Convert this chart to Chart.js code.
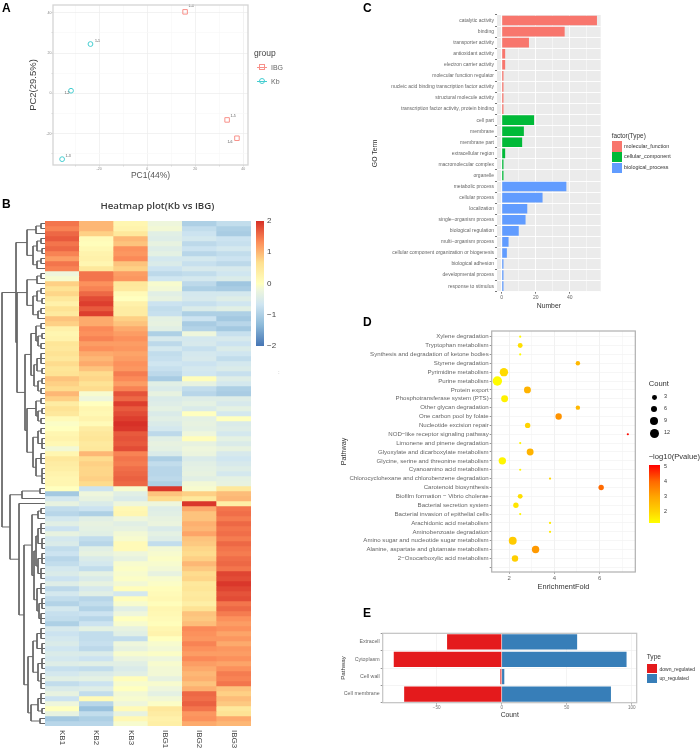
<!DOCTYPE html>
<html>
<head>
<meta charset="utf-8">
<script src="https://cdn.jsdelivr.net/npm/chart.js@4/dist/chart.umd.min.js"></script>
<style>
html, body { margin: 0; padding: 0; background: #fff; }
body { width: 700px; height: 750px; position: relative; overflow: hidden; font-family: "Liberation Sans", Arial, sans-serif; }
#page { position: absolute; left: 0; top: 0; width: 700px; height: 750px; filter: blur(0.45px); }
canvas { position: absolute; }
.txt { position: absolute; white-space: nowrap; line-height: 1; transform: translateY(-50%); }
.box { position: absolute; }
</style>
</head>
<body>
<div id="page">
<canvas id="pca" style="left:25px;top:0" width="228" height="183"></canvas>
<canvas id="dendro" style="left:0;top:221px" width="45" height="505"></canvas>
<canvas id="heat" style="left:45px;top:221px" width="206" height="529"></canvas>
<canvas id="go" style="left:368px;top:0" width="234" height="312"></canvas>
<canvas id="kegg" style="left:337px;top:326px" width="303" height="268"></canvas>
<canvas id="loc" style="left:337px;top:628px" width="302" height="93"></canvas>
</div>
<script>
// ---------- A: PCA ----------
const pcaIbgX = [15.8, 33.3, 37.4];
const pcaIbgY = [40.5, -13.2, -22.3];
const pcaKbX = [-23.6, -31.7, -35.4];
const pcaKbY = [24.5, 1.3, -32.7];
const pcaIbgNames = ['1-4', '1-5', '1-6'];
const pcaKbNames = ['1-1', '1-2', '1-3'];
const pcaXTicks = [-30, -20, -10, 0, 10, 20, 30, 40];
const pcaYTicks = [-30, -20, -10, 0, 10, 20, 30, 40];

// ---------- B: heatmap, one array per sample, one value per row ----------
const heatSamples = ['KB1', 'KB2', 'KB3', 'IBG1', 'IBG2', 'IBG3'];
const heatKB1 = [
    1.5, 1.4, 1.6, 1.7, 1.5, 1.6, 1.4, 1.2, 1.5, 1.4,
    -0.2, -0.1, 0.8, 0.6, 0.75, 0.5, 0.3, 0.6, 0.45, 0.9,
    0.8, 0.3, 0.2, 0.25, 0.55, 0.5, 0.6, 0.5, 0.7, 0.55,
    0.6, 0.9, 0.8, 0.7, 1.0, 0.8, 0.4, 0.6, 0.5, 0.1,
    -0.05, 0, 0.2, 0.25, 0.15, -0.15, 0.2, 0.5, 0.4, 0.35,
    0.25, 0.2, 0.2, 0, -1.1, -0.6, -0.3, -0.8, -0.9, -0.6,
    -0.4, -0.7, -0.3, -0.6, -0.5, -0.8, -0.7, -0.9, -0.8, -0.6,
    -0.5, -0.7, -0.45, -0.85, -0.6, -0.8, -0.95, -0.6, -0.75, -0.8,
    -1.0, -0.55, -0.7, -0.6, -0.5, -0.65, -0.5, -0.6, -0.45, -0.75,
    -0.6, -0.4, -0.8, -0.5, -0.3, -0.7, -0.2, 0, -0.3, -1.1, -0.9
];
const heatKB2 = [
    1.0, 1.0, 0.8, 0.1, 0.05, 0.15, 0.25, 0.3, 0.2, 0.5,
    1.5, 1.5, 1.3, 1.4, 1.6, 1.8, 1.9, 1.7, 1.9, 1.1,
    1.1, 1.35, 1.3, 1.4, 1.2, 1.3, 1.1, 1.0, 1.1, 0.9,
    0.7, 0.75, 0.6, 0.7, -0.1, -0.2, 0, 0.2, 0.15, 0.25,
    0.1, 0.4, 0.5, 0.55, 0.45, 0.5, 1.0, 0.7, 0.8, 0.75,
    0.75, 0.8, 0.7, -0.7, -0.2, -0.3, -0.5, -0.7, -1.0, -0.4,
    -0.3, -0.35, -0.4, -0.8, -0.9, -0.4, -0.3, -0.5, -0.6, -0.8,
    -0.35, -0.5, -0.3, -0.55, -0.4, -0.9, -0.8, -0.95, -0.7, -0.9,
    -0.7, -0.35, -0.8, -0.8, -0.75, -0.85, -0.5, -0.7, -0.4, -0.8,
    -0.5, -0.35, -0.7, -0.45, -0.8, 0.1, -0.9, -1.2, -0.8, -1.0, -0.9
];
const heatKB3 = [
    0.2, 0.25, 0.5, 1.0, 0.9, 1.3, 1.25, 1.35, 0.9, 0.8,
    1.2, 1.25, 0.5, 0.45, 0.1, 0, 0.3, 0.4, 0.4, 0.8,
    0.9, 1.1, 1.2, 1.3, 1.2, 1.25, 1.15, 1.2, 1.3, 1.25,
    1.45, 1.35, 1.2, 1.4, 1.75, 1.6, 1.9, 1.7, 1.8, 1.9,
    2.0, 1.95, 1.7, 1.75, 1.7, 1.8, 1.4, 1.5, 1.45, 1.55,
    1.6, 1.65, 1.6, -0.1, -0.4, -0.5, -0.2, 0.15, 0.2, -0.2,
    -0.4, -0.3, -0.15, -0.1, 0.1, 0.1, -0.2, -0.3, -0.1, -0.05,
    -0.1, -0.05, -0.15, 0.05, -0.6, 0.05, -0.1, -0.4, -0.2, 0,
    -0.1, -0.3, -0.4, -0.8, -0.2, -0.3, -0.1, -0.25, -0.4, -0.5,
    -0.4, 0.05, -0.1, 0, -0.15, -0.1, -0.2, 0.1, -0.3, 0.15, -0.1
];
const heatIBG1 = [
    -0.2, -0.15, -0.4, -0.45, -0.3, -0.45, -0.35, -0.6, -0.5, -0.7,
    -0.85, -0.65, -0.1, -0.15, -0.4, -0.3, -0.7, -0.8, -0.75, -0.35,
    -0.3, -0.4, -1.0, -0.55, -0.85, -0.6, -0.8, -0.75, -0.65, -0.75,
    -0.85, -1.05, -0.4, -0.5, -0.3, -0.5, -0.45, -0.35, -0.5, -0.4,
    -0.5, -0.6, -0.85, -0.4, -0.3, -0.35, -0.5, -1.0, -0.8, -0.9,
    -0.9, -0.85, -1.0, 1.95, 0.9, 0.7, -0.2, -0.45, -0.4, -0.3,
    -0.25, -0.5, -0.35, -0.45, -0.8, -0.15, -0.1, -0.05, -0.1, -0.15,
    -0.3, -0.1, -0.05, 0.05, 0.1, 0.15, 0.05, 0.2, 0.15, 0.1,
    0.05, 0.2, 0.25, 0, -0.1, -0.15, -0.05, -0.2, -0.1, -0.15,
    -0.15, -0.3, -0.1, -0.2, -0.35, -0.15, -0.05, 0.5, 0.4, 0.3, 0.35
];
const heatIBG2 = [
    -1.0, -0.8, -0.7, -0.6, -0.85, -0.7, -0.9, -0.6, -0.75, -0.55,
    -0.8, -0.6, -0.85, -1.0, -0.6, -0.55, -0.75, -0.5, -1.0, -0.7,
    -1.05, -0.95, -0.2, -0.6, -0.55, -0.75, -0.6, -0.55, -0.7, -0.6,
    -0.65, 0.05, -0.3, -0.8, -0.9, -0.45, -0.35, -0.5, 0, -0.35,
    -0.3, -0.35, -0.2, 0.05, -0.3, -0.2, -0.25, -0.5, -0.4, -0.35,
    -0.3, -0.4, -0.15, -0.1, 0.8, 0.5, 1.95, 1.1, 0.9, 0.9,
    1.05, 1.0, 1.15, 0.9, 0.85, 0.75, 0.7, 0.8, 1.0, 0.85,
    0.7, 0.75, 0.5, 0.55, 0.45, 0.5, 0.35, 0.6, 0.9, 0.85,
    0.95, 1.35, 1.3, 1.25, 1.4, 1.3, 1.2, 1.35, 1.2, 1.1,
    1.0, 1.05, 0.9, 1.05, 1.6, 1.55, 1.65, 1.5, 1.25, 1.3, 1.1
];
const heatIBG3 = [
    -0.8, -1.0, -1.05, -0.7, -0.75, -0.6, -0.8, -0.7, -0.85, -0.55,
    -0.65, -0.5, -1.15, -1.05, -0.6, -0.45, -0.65, -0.4, -1.0, -1.1,
    -0.9, -1.1, -0.75, -0.55, -0.7, -0.5, -0.65, -0.8, -0.6, -0.5,
    -0.75, -0.45, -0.6, -1.0, -1.05, -0.45, -0.55, -0.35, -0.6, 0,
    -0.5, -0.45, -0.6, -0.35, -0.5, -0.3, -0.55, -0.65, -0.55, -0.45,
    -0.6, -0.35, -0.3, 0.5, 0.95, 1.0, 0.35, 1.5, 1.55, 1.45,
    1.6, 1.5, 1.55, 1.45, 1.6, 1.5, 1.45, 1.55, 1.6, 1.5,
    1.85, 1.8, 1.95, 1.85, 1.75, 1.8, 1.5, 1.6, 1.45, 1.3,
    1.2, 1.3, 1.15, 1.25, 1.1, 1.25, 1.2, 1.3, 1.15, 1.3,
    1.45, 1.4, 1.5, 0.9, 0.8, 0.95, 0.85, 0.5, 0.6, 1.1, 1.0
];
const heatTicks = [2, 1, 0, -1, -2];
const heatStops = [[-2, '#4575B4'], [-1.33, '#8DBAD9'], [-0.67, '#CFE5F1'], [-0.2, '#EEF6DC'], [0, '#FFFFBF'], [0.67, '#FEE090'], [1.33, '#FC8D59'], [2, '#D73027']];

// dendrogram: node(height, ...children), rows(height, firstRow, lastRow)
const node = (h, ...kids) => ({ h, kids });
const rows = (h, a, b) => ({ h, a, b });
const dendroTree = node(2,
    node(16,
        node(27,
            node(36, rows(41, 0, 1), rows(42, 2, 2)),
            node(33, node(37, rows(41, 3, 4), rows(42, 5, 6)), node(37, rows(41, 7, 8), rows(42, 9, 9)))),
        node(17,
            node(27,
                node(37, rows(41, 10, 11), rows(42, 12, 12)),
                node(33, node(37, rows(41, 13, 14), rows(42, 15, 16)), node(38, rows(41, 17, 18), rows(42, 19, 19)))),
            node(25,
                node(31,
                    node(36, rows(41, 20, 21), node(38, rows(42, 22, 23), rows(41, 24, 25))),
                    node(34, node(37, rows(41, 26, 28), rows(42, 29, 30)), node(38, rows(42, 31, 32), rows(41, 33, 34)))),
                node(27,
                    node(36, rows(41, 35, 36), node(38, rows(42, 37, 38), rows(41, 39, 40))),
                    node(33, node(38, rows(41, 41, 42), rows(42, 43, 45)), node(36, rows(41, 46, 48), rows(42, 49, 52))))))),
    node(10,
        node(22, rows(40, 53, 54), rows(38, 55, 55)),
        node(19,
            rows(33, 56, 56),
            node(24,
                node(32,
                    node(38, rows(41, 57, 58), rows(42, 59, 59)),
                    node(34,
                        node(36, node(38, rows(41, 60, 62), rows(42, 63, 65)), node(38, rows(42, 66, 68), rows(41, 69, 71))),
                        node(37, rows(41, 72, 74), node(39, rows(42, 75, 77), rows(41, 78, 80))))),
                node(28,
                    node(33,
                        node(37, rows(41, 81, 83), rows(42, 84, 86)),
                        node(38, rows(42, 87, 89), rows(41, 90, 93))),
                    node(31, node(38, rows(41, 94, 96), rows(42, 97, 98)), rows(40, 99, 100)))))));

// ---------- C: GO terms ----------
const goTerms = [
    'catalytic activity', 'binding', 'transporter activity', 'antioxidant activity', 'electron carrier activity',
    'molecular function regulator', 'nucleic acid binding transcription factor activity', 'structural molecule activity',
    'transcription factor activity, protein binding', 'cell part', 'membrane', 'membrane part', 'extracellular region',
    'macromolecular complex', 'organelle', 'metabolic process', 'cellular process', 'localization', 'single\u2212organism process',
    'biological regulation', 'multi\u2212organism process', 'cellular component organization or biogenesis',
    'biological adhesion', 'developmental process', 'response to stimulus'
];
const goCounts = [56, 37, 16, 2, 2, 1, 1, 1, 1, 19, 13, 12, 2, 1, 1, 38, 24, 15, 14, 10, 4, 3, 1, 1, 1];
const goTypes = ['mf', 'mf', 'mf', 'mf', 'mf', 'mf', 'mf', 'mf', 'mf', 'cc', 'cc', 'cc', 'cc', 'cc', 'cc', 'bp', 'bp', 'bp', 'bp', 'bp', 'bp', 'bp', 'bp', 'bp', 'bp'];
const goTypeColors = { mf: '#F8766D', cc: '#00BA38', bp: '#619CFF' };
const goTypeNames = ['molecular_function', 'cellular_component', 'biological_process'];
const goXTicks = [0, 10, 20, 30, 40, 50];

// ---------- D: KEGG enrichment ----------
const keggPathways = [
    'Xylene degradation', 'Tryptophan metabolism', 'Synthesis and degradation of ketone bodies', 'Styrene degradation',
    'Pyrimidine metabolism', 'Purine metabolism', 'Protein export', 'Phosphotransferase system (PTS)', 'Other glycan degradation',
    'One carbon pool by folate', 'Nucleotide excision repair', 'NOD\u2212like receptor signaling pathway', 'Limonene and pinene degradation',
    'Glyoxylate and dicarboxylate metabolism', 'Glycine, serine and threonine metabolism', 'Cyanoamino acid metabolism',
    'Chlorocyclohexane and chlorobenzene degradation', 'Carotenoid biosynthesis', 'Biofilm formation \u2212 Vibrio cholerae',
    'Bacterial secretion system', 'Bacterial invasion of epithelial cells', 'Arachidonic acid metabolism', 'Aminobenzoate degradation',
    'Amino sugar and nucleotide sugar metabolism', 'Alanine, aspartate and glutamate metabolism', '2\u2212Oxocarboxylic acid metabolism', ''
];
const keggFold = [2.49, 2.49, 2.49, 5.04, 1.77, 1.48, 2.81, 1.8, 5.04, 4.19, 2.82, 7.25, 2.49, 2.93, 1.7, 2.49, 3.81, 6.07, 2.49, 2.3, 2.49, 3.81, 3.81, 2.16, 3.17, 2.26];
const keggCount = [1, 3, 1, 2, 10, 12, 7, 7, 2, 6, 4, 1, 1, 7, 8, 1, 1, 4, 3, 4, 1, 1, 1, 9, 8, 6];
const keggPval = [1.3, 1.8, 1.3, 2.6, 1.9, 1.3, 2.7, 1.5, 2.6, 3.3, 2.0, 5, 1.4, 2.7, 1.4, 1.4, 2.0, 4, 1.8, 1.7, 1.4, 1.6, 1.6, 2.2, 3.2, 2.1];
const keggXTicks = [2, 3, 4, 5, 6, 7];
const keggCountLegend = [3, 6, 9, 12];
const keggPvalLegend = [5, 4, 3, 2];
const pvalStops = [[1.25, '#FFFF00'], [2, '#FFD400'], [3, '#FFA500'], [4, '#FF6A00'], [5.1, '#FF0000']];

// ---------- E: subcellular location ----------
const locNames = ['Extracell', 'Cytoplasm', 'Cell wall', 'Cell membrane'];
const locDown = [-42, -83, -1, -75];
const locUp = [58, 96, 2, 84];
const locXTicks = [-50, 0, 50, 100];

// ---------- helpers ----------
Chart.defaults.font.family = '"Liberation Sans", Arial, sans-serif';
Chart.defaults.animation = false;
Chart.defaults.responsive = false;
Chart.defaults.plugins.legend.display = false;
Chart.defaults.plugins.tooltip.enabled = false;

const page = document.getElementById('page');

function addText(text, x, y, size, color, extra) {
    const el = document.createElement('div');
    el.className = 'txt';
    el.textContent = text;
    el.style.cssText = `left:${x}px;top:${y}px;font-size:${size}px;color:${color};${extra || ''}`;
    page.appendChild(el);
    return el;
}

function addBox(x, y, w, h, background, extra) {
    const el = document.createElement('div');
    el.className = 'box';
    el.style.cssText = `left:${x}px;top:${y}px;width:${w}px;height:${h}px;background:${background};${extra || ''}`;
    page.appendChild(el);
}

function hexToRgb(hex) {
    return [1, 3, 5].map(i => parseInt(hex.substr(i, 2), 16));
}

function rampColor(stops, v) {
    if (v <= stops[0][0]) return stops[0][1];
    for (let i = 1; i < stops.length; i++) {
        if (v <= stops[i][0]) {
            const t = (v - stops[i - 1][0]) / (stops[i][0] - stops[i - 1][0]);
            const a = hexToRgb(stops[i - 1][1]);
            const b = hexToRgb(stops[i][1]);
            return `rgb(${a.map((c, k) => Math.round(c + (b[k] - c) * t)).join(',')})`;
        }
    }
    return stops[stops.length - 1][1];
}

function rampCss(stops, lo, hi) {
    return stops.map(s => `${s[1]} ${(hi - s[0]) / (hi - lo) * 100}%`).reverse().join(',');
}

// frame and background behind the plot area
function panelPlugin(fill, border, width) {
    return {
        id: 'panel',
        beforeDraw(chart) {
            const a = chart.chartArea;
            if (fill) {
                chart.ctx.fillStyle = fill;
                chart.ctx.fillRect(a.left, a.top, a.width, a.height);
            }
        },
        afterDraw(chart) {
            if (!border) return;
            const a = chart.chartArea;
            chart.ctx.strokeStyle = border;
            chart.ctx.lineWidth = width;
            chart.ctx.strokeRect(a.left, a.top, a.width, a.height);
        }
    };
}

const setTicks = list => scale => { scale.ticks = list.map(value => ({ value })); };

// ---------- A ----------
const pcaOffsets = [[6, -6], [6, -4], [-7, 4], [7, -3], [-4, 2], [6, -3]];
new Chart(document.getElementById('pca'), {
    type: 'scatter',
    data: {
        datasets: [
            { label: 'IBG', data: pcaIbgX.map((x, i) => ({ x, y: pcaIbgY[i] })), pointStyle: 'rect', pointRadius: 3.2, borderColor: '#F8918A', backgroundColor: 'transparent', borderWidth: 1 },
            { label: 'Kb', data: pcaKbX.map((x, i) => ({ x, y: pcaKbY[i] })), pointStyle: 'circle', pointRadius: 2.4, borderColor: '#45CDD0', backgroundColor: 'transparent', borderWidth: 1 }
        ]
    },
    options: {
        layout: { padding: { top: 2, right: 5, left: 0, bottom: 0 } },
        scales: {
            x: {
                min: -39.2, max: 42,
                afterBuildTicks: setTicks(pcaXTicks),
                afterFit: s => { s.height = 18; },
                border: { display: false },
                grid: { color: c => c.tick && c.tick.value % 20 === 0 ? '#ececec' : '#f8f8f8', lineWidth: 0.7, tickLength: 1.5, tickColor: '#ccc' },
                ticks: { autoSkip: false, maxRotation: 0, padding: 0, color: '#888', font: { size: 3.5 }, callback: v => (v % 20 === 0 ? String(v) : '') },
                title: { display: true, text: 'PC1(44%)', color: '#555', font: { size: 8.5 }, padding: { bottom: 2 } }
            },
            y: {
                min: -35.6, max: 43.9,
                afterBuildTicks: setTicks(pcaYTicks),
                afterFit: s => { s.width = 28; },
                border: { display: false },
                grid: { color: c => c.tick && c.tick.value % 20 === 0 ? '#ececec' : '#f8f8f8', lineWidth: 0.7, tickLength: 1.5, tickColor: '#ccc' },
                ticks: { autoSkip: false, padding: 0, color: '#888', font: { size: 3.5 }, callback: v => (v % 20 === 0 ? String(v) : '') },
                title: { display: true, text: 'PC2(29.5%)', color: '#444', font: { size: 9.5 }, padding: { top: 3 } }
            }
        }
    },
    plugins: [panelPlugin(null, '#d4d4d4', 1.3), {
        id: 'pointNames',
        afterDatasetsDraw(chart) {
            const ctx = chart.ctx;
            ctx.font = '3.5px "Liberation Sans"';
            ctx.fillStyle = '#555';
            ctx.textAlign = 'center';
            ctx.textBaseline = 'middle';
            const names = [...pcaIbgNames, ...pcaKbNames];
            const pts = [...chart.getDatasetMeta(0).data, ...chart.getDatasetMeta(1).data];
            pts.forEach((p, i) => ctx.fillText(names[i], p.x + pcaOffsets[i][0], p.y + pcaOffsets[i][1]));
        }
    }]
});
addText('group', 254, 53, 8.5, '#444');
addText('IBG', 271, 67, 7, '#666');
addText('Kb', 271, 81, 7, '#666');
addBox(257, 66.8, 10, 0.9, '#F8918A');
addBox(259, 64, 6, 6, 'transparent', 'border:0.9px solid #F8918A;box-sizing:border-box');
addBox(257, 80.8, 10, 0.9, '#45CDD0');
addBox(259, 78.3, 6, 6, 'transparent', 'border:0.9px solid #45CDD0;box-sizing:border-box;border-radius:50%');

// ---------- B ----------
const heatCols = [heatKB1, heatKB2, heatKB3, heatIBG1, heatIBG2, heatIBG3];
const heatDatasets = heatKB1.map((_, r) => ({
    data: heatSamples.map(() => 1),
    backgroundColor: heatCols.map(col => rampColor(heatStops, col[r])),
    borderWidth: 0,
    stack: 'rows',
    categoryPercentage: 1,
    barPercentage: 1
}));
new Chart(document.getElementById('heat'), {
    type: 'bar',
    data: { labels: heatSamples, datasets: heatDatasets },
    options: {
        layout: { padding: { bottom: 24 } },
        scales: {
            x: { display: false, stacked: true },
            y: { display: false, stacked: true, min: 0, max: heatKB1.length, reverse: true }
        }
    },
    plugins: [{
        id: 'sampleLabels',
        afterDraw(chart) {
            const ctx = chart.ctx;
            const scale = chart.scales.x;
            ctx.save();
            ctx.font = '8px "Liberation Sans"';
            ctx.fillStyle = '#444';
            ctx.textAlign = 'left';
            ctx.textBaseline = 'middle';
            heatSamples.forEach((s, i) => {
                ctx.save();
                ctx.translate(scale.getPixelForTick(i), chart.chartArea.bottom + 4);
                ctx.rotate(Math.PI / 2);
                ctx.fillText(s, 0, 0);
                ctx.restore();
            });
            ctx.restore();
        }
    }]
});

// walk the tree and flatten it into line pieces with gaps
function dendroSegments(tree) {
    const out = [];
    const seg = (x1, y1, x2, y2) => out.push({ x: x1, y: y1 }, { x: x2, y: y2 }, { x: NaN, y: NaN });
    const walk = n => {
        if (n.kids) {
            const ys = n.kids.map(k => {
                const y = walk(k);
                seg(n.h, y, k.h, y);
                return y;
            });
            seg(n.h, ys[0], n.h, ys[ys.length - 1]);
            return (ys[0] + ys[ys.length - 1]) / 2;
        }
        seg(n.h, n.a + 0.5, n.h, n.b + 0.5);
        for (let r = n.a; r <= n.b; r++) seg(n.h, r + 0.5, 45, r + 0.5);
        return (n.a + n.b + 1) / 2;
    };
    walk(tree);
    return out;
}
new Chart(document.getElementById('dendro'), {
    type: 'scatter',
    data: { datasets: [{ data: dendroSegments(dendroTree), showLine: true, pointRadius: 0, borderColor: '#666', borderWidth: 1, spanGaps: false }] },
    options: {
        scales: {
            x: { display: false, min: 0, max: 45 },
            y: { display: false, min: 0, max: heatKB1.length, reverse: true }
        }
    }
});
addText('Heatmap plot(Kb vs IBG)', 100.5, 206, 10.6, '#3a3a3a', 'font-family:\'Open Sans\';font-size:9.7px;font-weight:600');
addBox(255.5, 221, 8, 125, `linear-gradient(to bottom,${rampCss(heatStops, -2, 2)})`);
heatTicks.forEach(t => addText(String(t).replace('-', '\u2212'), 267, 283.5 - t * 31.2, 8, '#444'));
addText(':', 278, 372, 6, '#aaa');

// ---------- C ----------
new Chart(document.getElementById('go'), {
    type: 'bar',
    data: {
        labels: goTerms,
        datasets: [{ data: goCounts, backgroundColor: goTypes.map(t => goTypeColors[t]), categoryPercentage: 1, barPercentage: 0.87 }]
    },
    options: {
        indexAxis: 'y',
        layout: { padding: { top: 15, right: 1.3 } },
        scales: {
            x: {
                min: -2.8, max: 58.2,
                afterBuildTicks: setTicks(goXTicks),
                afterFit: s => { s.height = 20.3; },
                border: { display: false },
                grid: { color: '#fff', lineWidth: c => (c.tick && c.tick.value % 20 === 0 ? 0.9 : 0.45), tickLength: 2, tickColor: c => (c.tick && c.tick.value % 20 === 0 ? '#666' : 'transparent') },
                ticks: { autoSkip: false, maxRotation: 0, padding: 0.5, color: '#666', font: { size: 5 }, callback: v => (v % 20 === 0 ? String(v) : '') },
                title: { display: true, text: 'Number', color: '#333', font: { size: 6.8 }, padding: { bottom: 2 } }
            },
            y: {
                afterFit: s => { s.width = 129; },
                border: { display: false },
                grid: { color: '#fff', lineWidth: 0.9, tickLength: 2, tickColor: '#666' },
                ticks: { autoSkip: false, padding: 1, color: '#666', font: { size: 5 } },
                title: { display: true, text: 'GO Term', color: '#333', font: { size: 6.8 }, padding: { top: 3 } }
            }
        }
    },
    plugins: [panelPlugin('#EBEBEB')]
});
addText('factor(Type)', 611.7, 136, 6.4, '#333');
['mf', 'cc', 'bp'].forEach((t, i) => {
    addBox(612, 141.3 + i * 10.8, 10, 10.4, goTypeColors[t]);
    addText(goTypeNames[i], 624, 146.5 + i * 10.8, 5.4, '#333');
});

// ---------- D ----------
const countRadius = c => (c === 1 ? 1.1 : 1.7 + 0.25 * c);
new Chart(document.getElementById('kegg'), {
    type: 'bubble',
    data: {
        datasets: [{
            data: keggFold.map((x, i) => ({ x, y: i, r: countRadius(keggCount[i]) })),
            backgroundColor: keggPval.map(p => rampColor(pvalStops, p)),
            borderWidth: 0
        }]
    },
    options: {
        layout: { padding: { top: 5, right: 2.7 } },
        scales: {
            x: {
                min: 1.23, max: 7.58,
                afterBuildTicks: setTicks(keggXTicks),
                afterFit: s => { s.height = 22; },
                border: { display: false },
                grid: { color: c => (c.tick && c.tick.value % 2 === 0 ? '#ebebeb' : '#f5f5f5'), lineWidth: 0.7, tickLength: 2, tickColor: c => (c.tick && c.tick.value % 2 === 0 ? '#888' : 'transparent') },
                ticks: { autoSkip: false, maxRotation: 0, padding: 0.5, color: '#666', font: { size: 6 }, callback: v => (v % 2 === 0 ? String(v) : '') },
                title: { display: true, text: 'EnrichmentFold', color: '#333', font: { size: 7.4 }, padding: { bottom: 3 } }
            },
            y: {
                min: -0.64, max: 26.53, reverse: true,
                afterBuildTicks: setTicks(keggPathways.map((_, i) => i)),
                afterFit: s => { s.width = 154.7; },
                border: { display: false },
                grid: { color: '#f2f2f2', lineWidth: 0.7, tickLength: 2, tickColor: '#666' },
                ticks: { autoSkip: false, padding: 1, color: '#666', font: { size: 6.1 }, callback: v => keggPathways[v] },
                title: { display: true, text: 'Pathway', color: '#333', font: { size: 7.2 }, padding: { top: 3 } }
            }
        }
    },
    plugins: [panelPlugin(null, '#b0b0b0', 1.2)]
});
addText('Count', 648.7, 384, 7.6, '#333');
keggCountLegend.forEach((c, i) => {
    const r = countRadius(c);
    addBox(654.3 - r, 397.3 + i * 12 - r, r * 2, r * 2, '#000', 'border-radius:50%');
    addText(String(c), 664, 397.3 + i * 12, 5.4, '#333');
});
addText('\u2212log10(Pvalue)', 648.7, 457, 7.6, '#333');
addBox(648.7, 465, 11.5, 58, `linear-gradient(to bottom,${rampCss(pvalStops, 1.25, 5.1)})`);
keggPvalLegend.forEach(p => addText(String(p), 664, 466.7 + (5 - p) * 15, 5.4, '#333'));

// ---------- E ----------
new Chart(document.getElementById('loc'), {
    type: 'bar',
    data: {
        labels: locNames,
        datasets: [
            { label: 'down_regulated', data: locDown, backgroundColor: '#E41A1C', categoryPercentage: 1, barPercentage: 0.88 },
            { label: 'up_regulated', data: locUp, backgroundColor: '#377EB8', categoryPercentage: 1, barPercentage: 0.88 }
        ]
    },
    options: {
        indexAxis: 'y',
        layout: { padding: { top: 5.3, right: 2.3 } },
        scales: {
            x: {
                stacked: true, min: -91.5, max: 103.8,
                afterBuildTicks: setTicks(locXTicks),
                afterFit: s => { s.height = 18.3; },
                border: { display: false },
                grid: { color: '#efefef', lineWidth: 0.7, tickLength: 2, tickColor: '#888' },
                ticks: { autoSkip: false, maxRotation: 0, padding: 0.5, color: '#777', font: { size: 4.6 }, callback: v => String(v).replace('-', '\u2212') },
                title: { display: true, text: 'Count', color: '#333', font: { size: 6.8 }, padding: { bottom: 2 } }
            },
            y: {
                stacked: true,
                afterFit: s => { s.width = 45.7; },
                border: { display: false },
                grid: { color: '#efefef', lineWidth: 0.7, tickLength: 2, tickColor: '#666' },
                ticks: { autoSkip: false, padding: 1, color: '#666', font: { size: 5.3 } },
                title: { display: true, text: 'Pathway', color: '#333', font: { size: 6.2 }, padding: { top: 3 } }
            }
        }
    },
    plugins: [panelPlugin(null, '#c4c4c4', 1.2)]
});
addText('Type', 646.7, 657, 6.6, '#333');
addBox(647, 664, 10, 9, '#E41A1C');
addBox(647, 673.5, 10, 9, '#377EB8');
addText('down_regulated', 659.5, 668.5, 5, '#333');
addText('up_regulated', 659.5, 678, 5, '#333');

// panel letters
[['A', 2, 8], ['B', 2, 204], ['C', 363, 8], ['D', 363, 322], ['E', 363, 613]].forEach(l =>
    addText(l[0], l[1], l[2], 12, '#000', 'font-weight:bold'));
</script>
</body>
</html>
